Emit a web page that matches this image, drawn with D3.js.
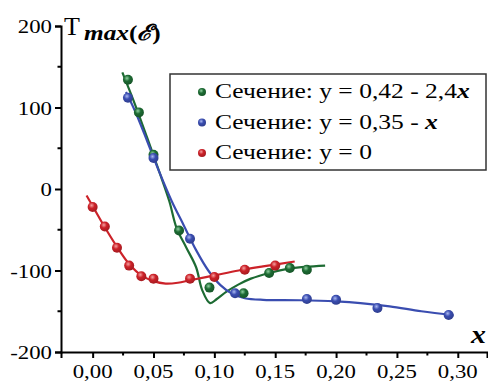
<!DOCTYPE html>
<html><head><meta charset="utf-8">
<script src="https://cdn.jsdelivr.net/npm/d3@7"></script>
<style>body{margin:0;background:#fff}svg{display:block}</style>
</head><body>
<script>
// ---- data ----
const xTicks = [0, 0.05, 0.10, 0.15, 0.20, 0.25, 0.30];
const yTicks = [-200, -100, 0, 100, 200];
const seriesNames = ["Сечение: y = 0,42 - 2,4", "Сечение: y = 0,35 - ", "Сечение: y = 0"];
const greenPts = [[0.029,134],[0.038,94],[0.050,42],[0.071,-51],[0.096,-121],[0.124,-128],[0.145,-103],[0.162,-97],[0.176,-99]];
const bluePts = [[0.029,112],[0.050,38],[0.080,-61],[0.117,-128],[0.176,-135],[0.200,-136],[0.234,-146],[0.2925,-154.5]];
const redPts = [[0,-22],[0.010,-46],[0.020,-72],[0.030,-94],[0.040,-107],[0.050,-110],[0.080,-110],[0.100,-108],[0.125,-99],[0.150,-94]];
const greenFit = [[0.0244,143],[0.035,103],[0.045,62],[0.055,20],[0.063,-15],[0.069,-48],[0.077,-72],[0.085,-96],[0.090,-124],[0.0965,-140],[0.102,-135],[0.110,-126],[0.120,-117],[0.130,-110],[0.145,-103],[0.160,-98],[0.175,-95.5],[0.191,-94]];
const blueFit = [[0.0274,119],[0.035,95],[0.045,58],[0.055,20],[0.065,-15],[0.075,-45],[0.085,-75],[0.095,-100],[0.105,-118],[0.115,-129],[0.125,-134],[0.140,-136],[0.170,-136.5],[0.200,-138],[0.220,-140],[0.244,-144],[0.270,-150],[0.2966,-155]];
const redFit = [[-0.005,-8],[0,-21],[0.010,-47],[0.020,-71],[0.030,-92],[0.040,-106],[0.050,-113],[0.060,-116],[0.070,-115],[0.080,-112],[0.100,-106],[0.120,-100],[0.140,-95],[0.166,-89]];
const colors = ["#1d6b33", "#3a4db0", "#cc2229"];
const lightColors = ["#8fd0a0", "#aab8f0", "#f4a0a0"];

const W = 488, H = 383;
const svg = d3.select("body").append("svg").attr("width", W).attr("height", H);
const font = "'Liberation Serif','Times New Roman',serif";

const x = d3.scaleLinear().domain([-0.026, 0.324]).range([61, 487]);
const y = d3.scaleLinear().domain([-200, 200]).range([352, 26]);

// gradients
const defs = svg.append("defs");
colors.forEach((c, i) => {
  const g = defs.append("radialGradient").attr("id", "g" + i).attr("cx", "40%").attr("cy", "35%").attr("r", "65%");
  g.append("stop").attr("offset", "0%").attr("stop-color", lightColors[i]);
  g.append("stop").attr("offset", "45%").attr("stop-color", c);
  g.append("stop").attr("offset", "100%").attr("stop-color", d3.color(c).darker(0.6));
});

// axes
const xAxis = d3.axisBottom(x).tickValues(xTicks).tickSize(6).tickFormat(d => d3.format(".2f")(d).replace(".", ","));
const xg = svg.append("g").attr("transform", "translate(0,352)").call(xAxis);
const yAxis = d3.axisLeft(y).tickValues(yTicks).tickSize(6).tickFormat(d => d);
const yg = svg.append("g").attr("transform", "translate(61,0)").call(yAxis);
[xg, yg].forEach(g => {
  g.select(".domain").attr("stroke", "#000").attr("stroke-width", 2);
  g.selectAll(".tick line").attr("stroke", "#000").attr("stroke-width", 2);
  g.selectAll(".tick text").remove();
});
// minor ticks
svg.append("g").selectAll("line").data(d3.range(0.025, 0.33, 0.05)).join("line")
  .attr("x1", d => x(d)).attr("x2", d => x(d)).attr("y1", 352).attr("y2", 355.5).attr("stroke", "#000").attr("stroke-width", 2);
svg.append("g").selectAll("line").data([-150, -50, 50, 150]).join("line")
  .attr("x1", 61).attr("x2", 57.5).attr("y1", d => y(d)).attr("y2", d => y(d)).attr("stroke", "#000").attr("stroke-width", 2);

// tick labels (stretched serif)
function stext(px, py, anchor, size, sx) {
  return svg.append("text").attr("transform", `translate(${px},${py}) scale(${sx},1)`)
    .attr("text-anchor", anchor).attr("font-family", font).attr("font-size", size).attr("fill", "#000");
}
xTicks.forEach(t => stext(x(t), 378, "middle", 19, 1.2).text(d3.format(".2f")(t).replace(".", ",")));
yTicks.forEach(t => stext(52, y(t) + 7, "end", 19, 1.2).text(t));

// axis titles
stext(64, 35, "start", 26, 1.0).text("T");
const yl = stext(84, 40, "start", 22, 1.15);
yl.append("tspan").attr("font-weight", "bold").attr("font-style", "italic").text("max");
yl.append("tspan").attr("font-weight", "bold").text("(");
yl.append("tspan").attr("font-weight", "bold").attr("font-style", "italic").text("ℰ");
yl.append("tspan").attr("font-weight", "bold").text(")");
stext(471, 343, "start", 26, 1.15).attr("font-weight", "bold").attr("font-style", "italic").text("x");

// curves
const line = d3.line().x(d => x(d[0])).y(d => y(d[1])).curve(d3.curveCatmullRom.alpha(0.5));
[greenFit, blueFit, redFit].forEach((f, i) => {
  svg.append("path").attr("d", line(f)).attr("fill", "none").attr("stroke", colors[i]).attr("stroke-width", 2.2);
});
[greenPts, bluePts, redPts].forEach((p, i) => {
  svg.append("g").selectAll("circle").data(p).join("circle")
    .attr("cx", d => x(d[0])).attr("cy", d => y(d[1])).attr("r", 5).attr("fill", `url(#g${i})`);
});

// legend
svg.append("rect").attr("x", 170).attr("y", 74).attr("width", 316).attr("height", 96)
  .attr("fill", "#fff").attr("stroke", "#333").attr("stroke-width", 1.5);
const rowsY = [92, 122.5, 153];
seriesNames.forEach((n, i) => {
  svg.append("circle").attr("cx", 202).attr("cy", rowsY[i]).attr("r", 4).attr("fill", `url(#g${i})`);
  const t = stext(215, rowsY[i] + 6, "start", 22, 1.16);
  t.append("tspan").text(n);
  if (i < 2) t.append("tspan").attr("font-weight", "bold").attr("font-style", "italic").text("x");
});
</script>
</body></html>
